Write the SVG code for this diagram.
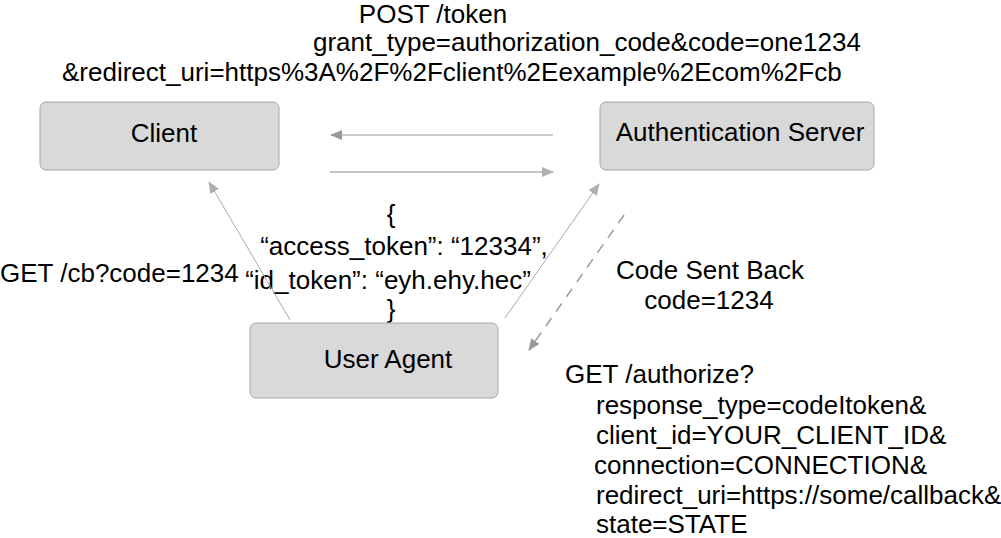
<svg xmlns="http://www.w3.org/2000/svg" width="1001" height="538" viewBox="0 0 1001 538">
<style>
text{font-family:"Liberation Sans",Arial,sans-serif;font-size:26px;fill:#000}
.box{fill:#d9d9d9;stroke:#a6a6a6;stroke-width:1}
.mid{text-anchor:middle}
</style>
<defs>
<marker id="ahDark" viewBox="0 0 12 10" refX="11" refY="5" markerWidth="12" markerHeight="10" markerUnits="userSpaceOnUse" orient="auto"><path d="M0,0 L12,5 L0,10 z" fill="#999"/></marker>
<marker id="ahLight" viewBox="0 0 12 10" refX="11" refY="5" markerWidth="12" markerHeight="10" markerUnits="userSpaceOnUse" orient="auto"><path d="M0,0 L12,5 L0,10 z" fill="#b0b0b0"/></marker>
</defs>
<g id="labels">
<text x="433" y="23" class="mid">POST /token</text>
<text x="313" y="51">grant_type=authorization_code&amp;code=one1234</text>
<text x="62" y="81">&amp;redirect_uri=https%3A%2F%2Fclient%2Eexample%2Ecom%2Fcb</text>
<text x="391" y="223" class="mid">{</text>
<text x="404" y="255" class="mid">“access_token”: “12334”,</text>
<text x="388" y="289" class="mid">“id_token”: “eyh.ehy.hec”</text>
<text x="391" y="318" class="mid">}</text>
<text x="0" y="282">GET /cb?code=1234</text>
<text x="710" y="279" class="mid">Code Sent Back</text>
<text x="709" y="309" class="mid">code=1234</text>
<text x="565" y="383">GET /authorize?</text>
<text x="596" y="414">response_type=codeItoken&amp;</text>
<text x="596" y="444">client_id=YOUR_CLIENT_ID&amp;</text>
<text x="594" y="474">connection=CONNECTION&amp;</text>
<text x="596" y="504">redirect_uri=https://some/callback&amp;</text>
<text x="596" y="533">state=STATE</text>
</g>
<g id="connectors" fill="none">
<line x1="553" y1="135" x2="331" y2="135" stroke="#999" stroke-width="1.2" marker-end="url(#ahDark)"/>
<line x1="330" y1="172" x2="553" y2="172" stroke="#c4c4c4" stroke-width="2" marker-end="url(#ahLight)"/>
<line x1="290" y1="320" x2="209" y2="182" stroke="#aaa" stroke-width="1" marker-end="url(#ahLight)"/>
<line x1="505" y1="318" x2="599" y2="184" stroke="#aaa" stroke-width="1" marker-end="url(#ahLight)"/>
<line x1="624" y1="215" x2="529" y2="350" stroke="#999" stroke-width="1.5" stroke-dasharray="10,8" marker-end="url(#ahDark)"/>
</g>
<g id="client">
<rect class="box" x="40" y="102" width="239" height="68" rx="6"/>
<text x="164" y="142" class="mid">Client</text>
</g>
<g id="auth-server">
<rect class="box" x="600" y="102" width="274" height="68" rx="6"/>
<text x="740" y="141" class="mid">Authentication Server</text>
</g>
<g id="user-agent">
<rect class="box" x="250" y="323" width="248" height="75" rx="6"/>
<text x="388" y="368" class="mid">User Agent</text>
</g>
</svg>
